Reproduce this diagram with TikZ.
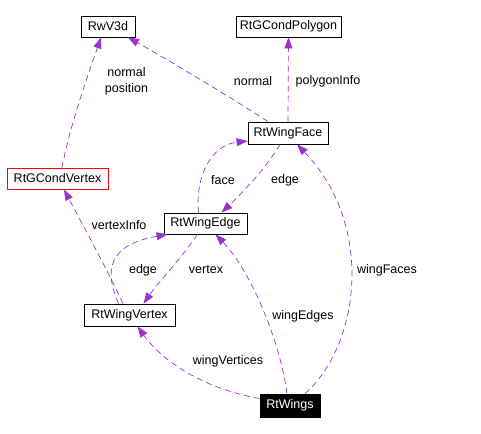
\documentclass[tikz,border=0pt]{standalone}
\usepackage{fontspec}
\setmainfont{Liberation Sans}
\usetikzlibrary{arrows.meta,calc}
\definecolor{usedpurple}{RGB}{154,50,205}

\begin{document}
\begin{tikzpicture}[
  x=1pt, y=-1pt,
  font=\fontsize{12.5}{16}\selectfont,
  cls/.style={rectangle, draw=black, line width=0.8pt,
              inner sep=2pt, minimum height=21pt},
  rootcls/.style={cls, fill=black, text=white},
  use/.style={-{Triangle[length=11pt,width=8pt]}, draw=usedpurple,
              line width=0.7pt, dash pattern=on 6pt off 4pt},
  lbl/.style={inner sep=0pt, text=black, align=center}
]
\useasboundingbox (0,0) rectangle (481,433);

% --- Classes ---
\node[cls, minimum width=54pt] (rwv) at (108,26.5) {RwV3d};
\node[cls, minimum width=105pt] (poly) at (288.5,26.5) {RtGCondPolygon};
\node[cls, minimum width=80pt, minimum height=22pt] (wface) at (288,133) {RtWingFace};
\node[cls, draw=red, minimum width=101pt] (gvert) at (57.5,178.5) {RtGCondVertex};
\node[cls, minimum width=83pt] (wedge) at (205.5,223.5) {RtWingEdge};
\node[cls, minimum width=91pt, minimum height=22pt] (wvert) at (129.5,315) {RtWingVertex};
\node[rootcls, minimum width=60pt, minimum height=23pt] (wings) at (290,405.5) {RtWings};

% --- Usage arrows ---
\draw[use] ([xshift=4.5pt]gvert.north) .. controls (70,125) and (88,75) .. ([xshift=-7pt]rwv.south);
\draw[use] ([xshift=-20pt]wface.north) .. controls (235,100) and (165,58) .. ([xshift=20pt]rwv.south);
\draw[use] (wface.north) -- (poly.south);
\draw[use] ([xshift=-7pt]wedge.north) .. controls (195,175) and (212,145) .. ([yshift=-8pt]wface.west);
\draw[use] ([xshift=-8pt]wface.south) .. controls (265,170) and (240,195) .. ([xshift=16pt]wedge.north);
\draw[use] ([xshift=-6.5pt]wvert.north) .. controls (105,265) and (80,220) .. ([xshift=6.5pt]gvert.south);
\draw[use] ([xshift=-11pt]wvert.north) .. controls (104,270) and (108,245) .. ([xshift=-38pt]wedge.south);
\draw[use] ([xshift=-8pt]wedge.south) .. controls (180,260) and (160,280) .. ([xshift=14pt]wvert.north);
\draw[use] ([xshift=-3pt]wings.north) .. controls (280,340) and (250,270) .. ([xshift=10pt]wedge.south);
\draw[use] ([yshift=7pt]wings.west) .. controls (210,390) and (165,365) .. ([xshift=8pt]wvert.south);
\draw[use] ([xshift=15pt]wings.north) .. controls (360,345) and (375,225) .. ([xshift=9pt]wface.south);

% --- Member labels ---
\node[lbl] (lnormpos) at (126.5,81) {normal\\position};
\node[lbl] (lnormal) at (253,81) {normal};
\node[lbl] (lpoly) at (328,81) {polygonInfo};
\node[lbl] (lface) at (223,180) {face};
\node[lbl] (ledgeA) at (285,180) {edge};
\node[lbl] (lvinfo) at (119,225) {vertexInfo};
\node[lbl] (ledgeB) at (143,270) {edge};
\node[lbl] (lvertex) at (206,270) {vertex};
\node[lbl] (lwfaces) at (387,270) {wingFaces};
\node[lbl] (lwedges) at (303,316) {wingEdges};
\node[lbl] (lwverts) at (228,361) {wingVertices};

\end{tikzpicture}
\end{document}
